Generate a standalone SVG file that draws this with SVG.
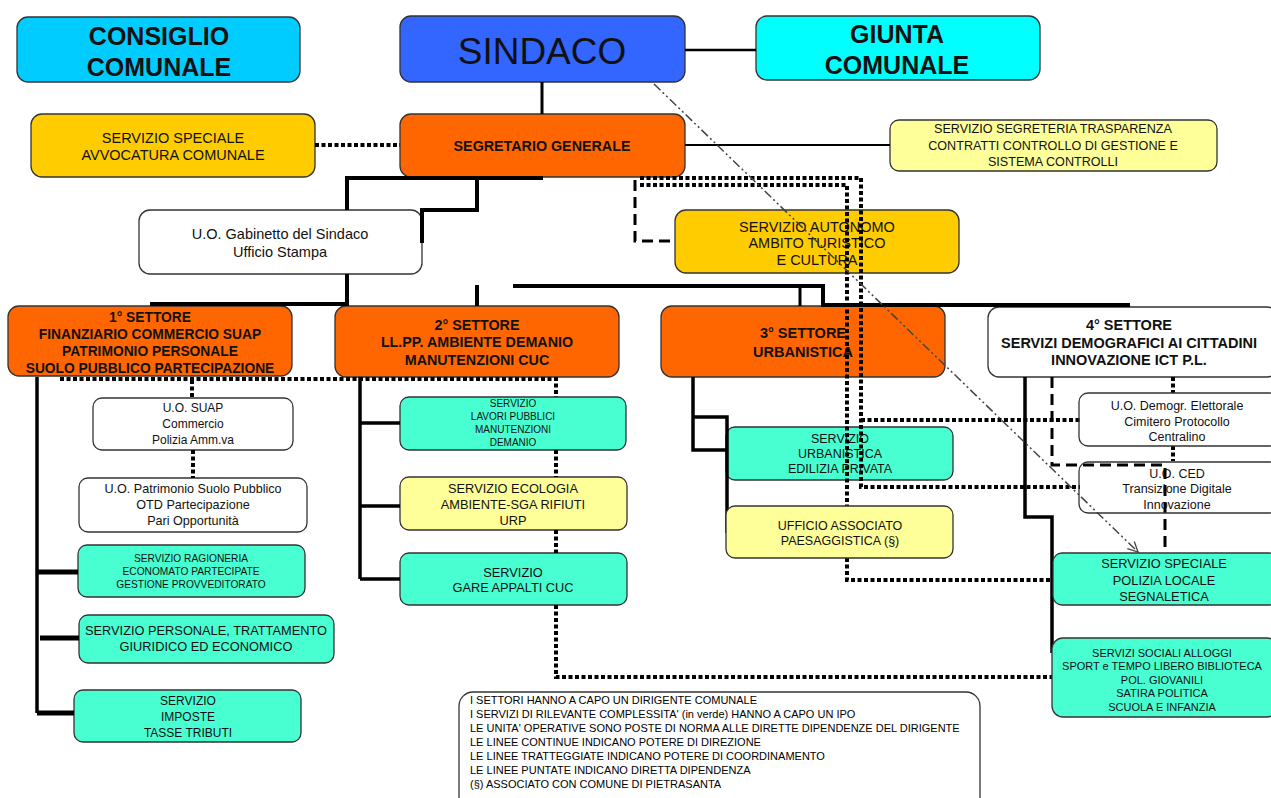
<svg xmlns="http://www.w3.org/2000/svg" width="1271" height="798" viewBox="0 0 1271 798">
<defs>
<style>
.box{stroke:#333;stroke-width:1.3}
.t{font-family:"Liberation Sans",Arial,sans-serif;text-anchor:middle;fill:#111}
.b{font-weight:bold}
.lg{font-family:"Liberation Sans",Arial,sans-serif;fill:#000;font-size:11px}
.sol{fill:none;stroke:#000;stroke-linejoin:miter}
.dot{fill:none;stroke:#000;stroke-width:4;stroke-dasharray:4 2.5}
.dash{fill:none;stroke:#000;stroke-width:3;stroke-dasharray:11 6}
.dd{fill:none;stroke:#444;stroke-width:1.5;stroke-dasharray:9 3 2 3 2 3}
.blue1{fill:#00CCFF}.blue2{fill:#3366FF}.cyan{fill:#00FFFF}
.gold{fill:#FFCC00}.orange{fill:#FF6600}.lyel{fill:#FFFF99}
.aqua{fill:#48FFD2}.white{fill:#FFFFFF}
</style>
<marker id="arr" viewBox="0 0 12 12" refX="11" refY="6" markerWidth="12" markerHeight="12" markerUnits="userSpaceOnUse" orient="auto">
<path d="M1,1 L11,6 L1,11" fill="none" stroke="#444" stroke-width="1.3"/>
</marker>
</defs>

<g id="consiglio"><rect class="box blue1" x="17" y="17" width="283" height="65" rx="11"/>
<text class="t b" x="159" y="45" font-size="25">CONSIGLIO</text><text class="t b" x="159" y="76" font-size="25">COMUNALE</text></g>
<g id="sindaco"><rect class="box blue2" x="400" y="16" width="285" height="66" rx="11"/>
<text class="t" x="542" y="64" font-size="37">SINDACO</text></g>
<g id="giunta"><rect class="box cyan" x="756" y="16" width="284" height="64" rx="11"/>
<text class="t b" x="897" y="43" font-size="25">GIUNTA</text><text class="t b" x="897" y="74" font-size="25">COMUNALE</text></g>

<g id="avvocatura"><rect class="box gold" x="31" y="114" width="284" height="63" rx="11"/>
<text class="t" x="173" y="143" font-size="14.5">SERVIZIO SPECIALE</text><text class="t" x="173" y="160" font-size="14.5">AVVOCATURA COMUNALE</text></g>
<g id="segretario"><rect class="box orange" x="400" y="114" width="285" height="63" rx="11"/>
<text class="t b" x="542" y="151" font-size="14.3">SEGRETARIO GENERALE</text></g>
<g id="segreteria"><rect class="box lyel" x="890" y="120" width="327" height="51" rx="9"/>
<text class="t" x="1053" y="133" font-size="12.6">SERVIZIO SEGRETERIA TRASPARENZA</text>
<text class="t" x="1053" y="150" font-size="12.6">CONTRATTI CONTROLLO DI GESTIONE E</text>
<text class="t" x="1053" y="166" font-size="12.6">SISTEMA CONTROLLI</text></g>

<g id="gabinetto"><rect class="box white" x="139" y="210" width="283" height="64" rx="11"/>
<text class="t" x="280" y="239" font-size="14.5">U.O. Gabinetto del Sindaco</text><text class="t" x="280" y="257" font-size="14.5">Ufficio Stampa</text></g>
<g id="autonomo"><rect class="box gold" x="675" y="210" width="284" height="63" rx="11"/>
<text class="t" x="817" y="232" font-size="14.5">SERVIZIO AUTONOMO</text><text class="t" x="817" y="248" font-size="14.5">AMBITO TURISTICO</text><text class="t" x="817" y="265" font-size="14.5">E CULTURA</text></g>

<g id="settore1"><rect class="box orange" x="8" y="306" width="284" height="70" rx="11"/>
<text class="t b" x="150" y="322" font-size="13.8">1° SETTORE</text><text class="t b" x="150" y="339" font-size="13.8">FINANZIARIO COMMERCIO SUAP</text>
<text class="t b" x="150" y="356" font-size="13.8">PATRIMONIO PERSONALE</text><text class="t b" x="150" y="373" font-size="13.8">SUOLO PUBBLICO PARTECIPAZIONE</text></g>
<g id="settore2"><rect class="box orange" x="335" y="306" width="284" height="71" rx="11"/>
<text class="t b" x="477" y="330" font-size="14.3">2° SETTORE</text><text class="t b" x="477" y="347" font-size="14.3">LL.PP. AMBIENTE DEMANIO</text><text class="t b" x="477" y="365" font-size="14.3">MANUTENZIONI CUC</text></g>
<g id="settore3"><rect class="box orange" x="661" y="306" width="284" height="71" rx="11"/>
<text class="t b" x="803" y="338" font-size="14.5">3° SETTORE</text><text class="t b" x="803" y="357" font-size="14.5">URBANISTICA</text></g>
<g id="settore4"><rect class="box white" x="988" y="307" width="290" height="70" rx="11"/>
<text class="t b" x="1129" y="330" font-size="14.5">4° SETTORE</text><text class="t b" x="1129" y="348" font-size="14.5">SERVIZI DEMOGRAFICI AI CITTADINI</text><text class="t b" x="1129" y="365" font-size="14.5">INNOVAZIONE ICT  P.L.</text></g>

<g id="suap"><rect class="box white" x="93" y="398" width="200" height="52" rx="9"/>
<text class="t" x="193" y="412" font-size="12">U.O. SUAP</text><text class="t" x="193" y="428" font-size="12">Commercio</text><text class="t" x="193" y="444" font-size="12">Polizia Amm.va</text></g>
<g id="patrimonio"><rect class="box white" x="79" y="478" width="228" height="54" rx="9"/>
<text class="t" x="193" y="493" font-size="12.6">U.O. Patrimonio Suolo Pubblico</text><text class="t" x="193" y="509" font-size="12.6">OTD Partecipazione</text><text class="t" x="193" y="525" font-size="12.6">Pari Opportunità</text></g>
<g id="ragioneria"><rect class="box aqua" x="78" y="545" width="227" height="52" rx="9"/>
<text class="t" x="191" y="562" font-size="10.2">SERVIZIO RAGIONERIA</text><text class="t" x="191" y="575" font-size="10.2">ECONOMATO PARTECIPATE</text><text class="t" x="191" y="588" font-size="10.2">GESTIONE  PROVVEDITORATO</text></g>
<g id="personale"><rect class="box aqua" x="79" y="615" width="255" height="48" rx="9"/>
<text class="t" x="206" y="635" font-size="12.8">SERVIZIO PERSONALE, TRATTAMENTO</text><text class="t" x="206" y="651" font-size="12.8">GIURIDICO ED ECONOMICO</text></g>
<g id="imposte"><rect class="box aqua" x="74" y="690" width="227" height="52" rx="9"/>
<text class="t" x="188" y="705" font-size="12">SERVIZIO</text><text class="t" x="188" y="721" font-size="12">IMPOSTE</text><text class="t" x="188" y="737" font-size="12">TASSE TRIBUTI</text></g>

<g id="lavori"><rect class="box aqua" x="400" y="397" width="226" height="53" rx="9"/>
<text class="t" x="513" y="407" font-size="10">SERVIZIO</text><text class="t" x="513" y="420" font-size="10">LAVORI PUBBLICI</text><text class="t" x="513" y="433" font-size="10">MANUTENZIONI</text><text class="t" x="513" y="446" font-size="10">DEMANIO</text></g>
<g id="ecologia"><rect class="box lyel" x="400" y="477" width="227" height="53" rx="9"/>
<text class="t" x="513" y="493" font-size="12.8">SERVIZIO ECOLOGIA</text><text class="t" x="513" y="509" font-size="12.8">AMBIENTE-SGA RIFIUTI</text><text class="t" x="513" y="525" font-size="12.8">URP</text></g>
<g id="gare"><rect class="box aqua" x="400" y="553" width="227" height="52" rx="9"/>
<text class="t" x="513" y="577" font-size="12.8">SERVIZIO</text><text class="t" x="513" y="592" font-size="12.8">GARE APPALTI CUC</text></g>

<g id="urbanistica"><rect class="box aqua" x="726" y="427" width="227" height="53" rx="9"/>
<text class="t" x="840" y="443" font-size="12.5">SERVIZIO</text><text class="t" x="840" y="458" font-size="12.5">URBANISTICA</text><text class="t" x="840" y="473" font-size="12.5">EDILIZIA PRIVATA</text></g>

<g id="connectors">
<path class="sol" stroke-width="2.5" d="M685,50 H756"/>
<path class="sol" stroke-width="3" d="M542,82 V114"/>
<path class="dot" d="M315,145 H400"/>
<path class="sol" stroke-width="2" d="M685,145 H890"/>
<path class="sol" stroke-width="4" d="M543,178 H347 V210"/>
<path class="sol" stroke-width="4" d="M477,178 V210 H422 V243"/>
<path class="sol" stroke-width="4" d="M347,274 V304 H150"/>
<path class="sol" stroke-width="4" d="M477,285 V306"/>
<path class="sol" stroke-width="4" d="M513,286 H823 V305 H1130"/>
<path class="sol" stroke-width="3" d="M800,286 V306"/>
<path class="dot" d="M640,178 H861 V487 H1080"/>
<path class="dot" d="M861,420 H1080"/>
<path class="dot" d="M640,185 H847 V506"/>
<path class="dot" d="M847,558 V580 H1053"/>
<path class="dash" d="M635,180 V241 H675"/>
<path class="dot" d="M60,379 H556 V397 M556,450 V477 M556,530 V553 M556,605 V677 H1052"/>
<path class="dot" d="M192,380 V398 M193,450 V478"/>
<path class="sol" stroke-width="3.5" d="M37,377 V713"/>
<path class="sol" stroke-width="5" d="M37,572 H78 M40,638 H79 M37,713 H74"/>
<path class="sol" stroke-width="3.5" d="M360,377 V579"/>
<path class="sol" stroke-width="3.5" d="M360,423 H400 M360,506 H400 M360,579 H400"/>
<path class="sol" stroke-width="3.5" d="M693,377 V450 H727 M693,417 H727 V533"/>
<path class="sol" stroke-width="3.5" d="M1025,377 V517 H1052 V653"/>
<path class="dash" d="M1052,377 V465 H1165 V550"/>
<path class="dot" d="M1173,377 V393 M1173,446 V461"/>
<path class="dd" d="M654,84 L1138,552" marker-end="url(#arr)"/>
</g>

<g id="associato"><rect class="box lyel" x="726" y="506" width="227" height="52" rx="9"/>
<text class="t" x="840" y="530" font-size="12.5">UFFICIO ASSOCIATO</text><text class="t" x="840" y="545" font-size="12.5">PAESAGGISTICA (§)</text></g>

<g id="demogr"><rect class="box white" x="1079" y="393" width="200" height="53" rx="9" fill-opacity="0"/>
<text class="t" x="1177" y="410" font-size="12.5">U.O. Demogr. Elettorale</text><text class="t" x="1177" y="426" font-size="12.5">Cimitero Protocollo</text><text class="t" x="1177" y="441" font-size="12.5">Centralino</text></g>
<g id="ced"><rect class="box white" x="1079" y="462" width="200" height="51" rx="9" fill-opacity="0"/>
<text class="t" x="1177" y="478" font-size="12.5">U.O. CED</text><text class="t" x="1177" y="493" font-size="12.5">Transizione Digitale</text><text class="t" x="1177" y="509" font-size="12.5">Innovazione</text></g>
<g id="polizia"><rect class="box aqua" x="1053" y="553" width="225" height="52" rx="9"/>
<text class="t" x="1164" y="568" font-size="12.8">SERVIZIO SPECIALE</text><text class="t" x="1164" y="585" font-size="12.8">POLIZIA LOCALE</text><text class="t" x="1164" y="601" font-size="12.8">SEGNALETICA</text></g>
<g id="sociali"><rect class="box aqua" x="1052" y="638" width="226" height="79" rx="11"/>
<text class="t" x="1162" y="657" font-size="11">SERVIZI  SOCIALI ALLOGGI</text><text class="t" x="1162" y="670" font-size="11">SPORT e TEMPO LIBERO BIBLIOTECA</text>
<text class="t" x="1162" y="684" font-size="11">POL. GIOVANILI</text><text class="t" x="1162" y="697" font-size="11">SATIRA POLITICA</text><text class="t" x="1162" y="711" font-size="11">SCUOLA E INFANZIA</text></g>

<g id="legenda"><rect x="459" y="692" width="521" height="120" rx="14" fill="#fff" stroke="#333" stroke-width="1.3"/>
<text class="lg" x="470" y="704">I SETTORI HANNO A CAPO UN DIRIGENTE COMUNALE</text>
<text class="lg" x="470" y="718">I SERVIZI DI RILEVANTE COMPLESSITA' (in verde) HANNO A CAPO UN  IPO</text>
<text class="lg" x="470" y="732">LE UNITA' OPERATIVE SONO POSTE DI NORMA ALLE DIRETTE DIPENDENZE DEL DIRIGENTE</text>
<text class="lg" x="470" y="746">LE LINEE CONTINUE INDICANO POTERE DI DIREZIONE</text>
<text class="lg" x="470" y="760">LE LINEE  TRATTEGGIATE INDICANO POTERE DI COORDINAMENTO</text>
<text class="lg" x="470" y="774">LE LINEE PUNTATE INDICANO DIRETTA DIPENDENZA</text>
<text class="lg" x="470" y="788">(§) ASSOCIATO CON  COMUNE DI PIETRASANTA</text></g>
</svg>
